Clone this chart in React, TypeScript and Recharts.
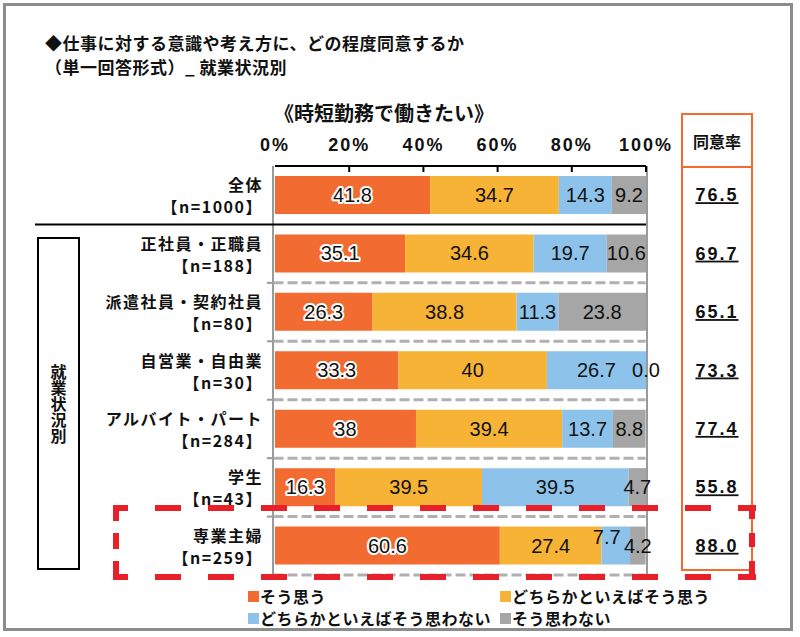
import { Bar, BarChart, LabelList, Legend, ReferenceLine, XAxis, YAxis } from 'recharts';

const groups = ['全体', '正社員・正職員', '派遣社員・契約社員', '自営業・自由業', 'アルバイト・パート', '学生', '専業主婦'];
const sampleSizes = [1000, 188, 80, 30, 284, 43, 259];
const agree = [41.8, 35.1, 26.3, 33.3, 38, 16.3, 60.6];
const ratherAgree = [34.7, 34.6, 38.8, 40, 39.4, 39.5, 27.4];
const ratherDisagree = [14.3, 19.7, 11.3, 26.7, 13.7, 39.5, 7.7];
const disagree = [9.2, 10.6, 23.8, 0.0, 8.8, 4.7, 4.2];
const agreeRate = [76.5, 69.7, 65.1, 73.3, 77.4, 55.8, 88.0];
const xTicks = [0, 20, 40, 60, 80, 100];

const series = [
  { key: 'agree', name: 'そう思う', color: '#F26B30' },
  { key: 'ratherAgree', name: 'どちらかといえばそう思う', color: '#F6B335' },
  { key: 'ratherDisagree', name: 'どちらかといえばそう思わない', color: '#8DC3EA' },
  { key: 'disagree', name: 'そう思わない', color: '#A6A6A6' },
];

const data = groups.map((name, i) => ({
  name,
  agree: agree[i],
  ratherAgree: ratherAgree[i],
  ratherDisagree: ratherDisagree[i],
  disagree: disagree[i],
}));

// small label nudges where segments are too thin (専業主婦)
const nudge: Record<string, [number, number]> = {
  'ratherDisagree-6': [-9, -9],
  'disagree-6': [7, 12],
};

const LATIN = "'Liberation Sans', Arial, 'Noto Sans CJK JP', sans-serif";
const JP = "'Noto Sans CJK JP', 'Liberation Sans', sans-serif";

// plot box (matches the chart margins below)
const PLOT = { left: 275, right: 646, top: 166, bottom: 575 };

const fmt = (v: number) => (v === 0 ? '0.0' : String(v));

const ValueText = ({ x, y, text, halo }: any) => (
  <text
    x={x}
    y={y}
    textAnchor="middle"
    dominantBaseline="central"
    fontFamily={LATIN}
    fontSize={20}
    fill="#111"
    stroke={halo ? '#fff' : 'none'}
    strokeWidth={halo ? 4 : 0}
    strokeLinejoin="round"
    paintOrder="stroke"
  >
    {text}
  </text>
);

const makeLabel = (key: string) => (props: any) => {
  const box = props.viewBox ?? props;
  const { x, y, width, height } = box;
  const i = props.index;
  const v = Number(props.value);
  // a zero-width "disagree" segment gets no rect, so its label rides on the blue one
  if (key === 'disagree' && v === 0) return null;
  const [dx, dy] = nudge[`${key}-${i}`] ?? [0, 0];
  return (
    <g>
      <ValueText x={x + width / 2 + dx} y={y + height / 2 + dy} text={fmt(v)} halo={key === 'agree'} />
      {key === 'ratherDisagree' && disagree[i] === 0 && (
        <ValueText x={x + width} y={y + height / 2} text={fmt(disagree[i])} />
      )}
    </g>
  );
};

const PercentTick = ({ x, y, payload }: any) => (
  <g>
    {payload.value > 0 && (
      <line x1={x} x2={x} y1={y} y2={y + 6} stroke="#000" strokeWidth={2} />
    )}
    <text
      x={x}
      y={y - 15}
      textAnchor="middle"
      fontFamily={LATIN}
      fontWeight="bold"
      fontSize={18}
      letterSpacing={2}
      fill="#111"
    >
      {payload.value}%
    </text>
  </g>
);

const GroupTick = ({ x, y, payload, index }: any) => (
  <g fontFamily={JP} fontWeight="bold" fontSize={16} fill="#111" letterSpacing={1.5}>
    <text x={x} y={y - 4} textAnchor="end">
      {payload.value}
    </text>
    <text x={x} y={y + 18} textAnchor="end">
      【n={sampleSizes[index]}】
    </text>
  </g>
);

const RateTick = ({ x, y, index }: any) => (
  <text
    x={x + 71}
    y={y + 6}
    textAnchor="middle"
    fontFamily={LATIN}
    fontWeight="bold"
    fontSize={18}
    letterSpacing={2}
    fill="#111"
    textDecoration="underline"
  >
    {agreeRate[index].toFixed(1)}
  </text>
);

const renderLegend = () => (
  <div
    style={{
      display: 'grid',
      gridTemplateColumns: '252px auto',
      rowGap: 2,
      fontFamily: JP,
      fontWeight: 'bold',
      fontSize: 16,
      letterSpacing: 0.5,
      color: '#111',
      lineHeight: '20px',
    }}
  >
    {series.map((s) => (
      <div key={s.key} style={{ display: 'flex', alignItems: 'center' }}>
        <span style={{ width: 11, height: 11, background: s.color, marginRight: 1 }} />
        {s.name}
      </div>
    ))}
  </div>
);

const lastGroup = groups[groups.length - 1];

export default function App() {
  const red = '#E8202A';
  return (
    <div style={{ position: 'absolute', left: 0, top: 0, width: 800, height: 637, background: '#fff' }}>
      <div
        style={{
          position: 'absolute',
          left: 3,
          top: 3,
          width: 784,
          height: 622,
          border: '3px solid #8c8c8c',
        }}
      />
      <div
        style={{
          position: 'absolute',
          left: 45,
          top: 31,
          fontFamily: JP,
          fontWeight: 'bold',
          fontSize: 17,
          lineHeight: '24px',
          letterSpacing: 0.5,
          color: '#111',
        }}
      >
        <div>◆仕事に対する意識や考え方に、どの程度同意するか</div>
        <div>（単一回答形式）_ 就業状況別</div>
      </div>
      <div
        style={{
          position: 'absolute',
          left: 274,
          top: 99,
          fontFamily: JP,
          fontWeight: 'bold',
          fontSize: 20,
          lineHeight: '28px',
          color: '#111',
        }}
      >
        《時短勤務で働きたい》
      </div>
      <div
        style={{
          position: 'absolute',
          left: 37,
          top: 237,
          width: 39,
          height: 329,
          border: '2px solid #000',
          display: 'flex',
          alignItems: 'center',
          justifyContent: 'center',
        }}
      >
        <span
          style={{
            writingMode: 'vertical-rl',
            fontFamily: JP,
            fontWeight: 'bold',
            fontSize: 16,
            color: '#111',
          }}
        >
          就業状況別
        </span>
      </div>

      {/* left axis and right frame of the plot, under the bars */}
      <svg
        width={800}
        height={637}
        style={{ position: 'absolute', left: 0, top: 0, pointerEvents: 'none' }}
      >
        <line x1={PLOT.left - 2} x2={PLOT.left - 2} y1={PLOT.top} y2={PLOT.bottom + 2} stroke="#9a9a9a" strokeWidth={2} />
        <line x1={PLOT.right + 1} x2={PLOT.right + 1} y1={PLOT.top} y2={PLOT.bottom + 2} stroke="#9a9a9a" strokeWidth={2} />
      </svg>

      <div style={{ position: 'absolute', left: 0, top: 0 }}>
        <BarChart
          width={800}
          height={637}
          layout="vertical"
          data={data}
          barSize={38}
          margin={{ top: PLOT.top - 30, right: 800 - PLOT.right - 1, bottom: 637 - PLOT.bottom, left: PLOT.left - 1 }}
        >
          <XAxis
            type="number"
            orientation="top"
            domain={[0, 100]}
            allowDataOverflow
            ticks={xTicks}
            height={30}
            tickSize={0}
            tickMargin={0}
            tickLine={false}
            axisLine={{ stroke: '#000', strokeWidth: 2 }}
            tick={<PercentTick />}
          />
          <YAxis
            yAxisId="cat"
            type="category"
            dataKey="name"
            width={1}
            interval={0}
            axisLine={false}
            tickLine={false}
            tickSize={0}
            tickMargin={12}
            tick={<GroupTick />}
          />
          <YAxis
            yAxisId="rate"
            type="category"
            dataKey="name"
            orientation="right"
            width={1}
            interval={0}
            axisLine={false}
            tickLine={false}
            tickSize={0}
            tickMargin={0}
            tick={<RateTick />}
          />
          {groups.slice(2).map((g) => (
            <ReferenceLine
              key={`d-${g}`}
              yAxisId="cat"
              position="start"
              ifOverflow="visible"
              segment={[
                { x: -0.4, y: g },
                { x: 99.9, y: g },
              ]}
              stroke="#b0b0b0"
              strokeWidth={3}
              strokeDasharray="10 4"
            />
          ))}
          <ReferenceLine
            yAxisId="cat"
            position="end"
            ifOverflow="visible"
            segment={[
              { x: -0.4, y: lastGroup },
              { x: 99.9, y: lastGroup },
            ]}
            stroke="#b0b0b0"
            strokeWidth={3}
            strokeDasharray="10 4"
          />
          {groups.slice(2).map((g) => (
            <ReferenceLine
              key={`t-${g}`}
              yAxisId="cat"
              position="start"
              ifOverflow="visible"
              segment={[
                { x: -2.2, y: g },
                { x: -0.5, y: g },
              ]}
              stroke="#9a9a9a"
              strokeWidth={2}
            />
          ))}
          <ReferenceLine
            yAxisId="cat"
            position="start"
            ifOverflow="visible"
            segment={[
              { x: -64.7, y: groups[1] },
              { x: 100, y: groups[1] },
            ]}
            stroke="#000"
            strokeWidth={2}
          />
          {series.map((s) => (
            <Bar
              key={s.key}
              yAxisId="cat"
              dataKey={s.key}
              name={s.name}
              stackId="a"
              fill={s.color}
              isAnimationActive={false}
            >
              <LabelList dataKey={s.key} content={makeLabel(s.key)} />
            </Bar>
          ))}
          <Legend
            layout="horizontal"
            verticalAlign="middle"
            align="center"
            content={renderLegend}
            wrapperStyle={{ left: 248, top: 586, width: 530, height: 44 }}
          />
        </BarChart>
      </div>

      <svg
        width={800}
        height={637}
        style={{ position: 'absolute', left: 0, top: 0, pointerEvents: 'none' }}
      >
        <rect x={682} y={114} width={70} height={456} fill="none" stroke="#F26B30" strokeWidth={2} />
        <line x1={682} x2={752} y1={167} y2={167} stroke="#F26B30" strokeWidth={2} />
        <text
          x={717}
          y={148}
          textAnchor="middle"
          fontFamily={JP}
          fontWeight="bold"
          fontSize={16}
          fill="#111"
        >
          同意率
        </text>
        <g stroke={red} strokeWidth={6} fill="none">
          <line x1={113} x2={756} y1={508} y2={508} strokeDasharray="26 27" strokeDashoffset={11} />
          <line x1={113} x2={756} y1={577} y2={577} strokeDasharray="26 27" strokeDashoffset={11} />
          <line x1={116} x2={116} y1={505} y2={580} strokeDasharray="16 12" />
          <line x1={752} x2={752} y1={505} y2={580} strokeDasharray="14 14" />
        </g>
      </svg>
    </div>
  );
}
